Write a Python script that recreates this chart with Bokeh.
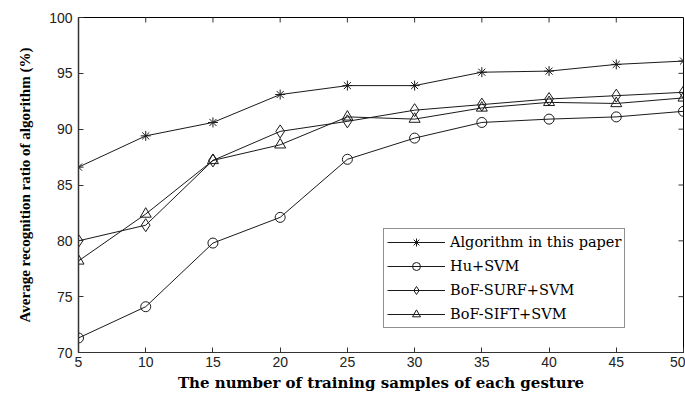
import math
from bokeh.plotting import figure
from bokeh.models import Legend, LegendItem, FixedTicker, Range1d
from bokeh.embed import file_html
from bokeh.resources import INLINE

# ---- data ----
samples = [5, 10, 15, 20, 25, 30, 35, 40, 45, 50]
alg_this_paper = [86.6, 89.4, 90.6, 93.1, 93.9, 93.9, 95.1, 95.2, 95.8, 96.1]
hu_svm = [71.3, 74.1, 79.8, 82.1, 87.3, 89.2, 90.6, 90.9, 91.1, 91.6]
bof_surf_svm = [80.0, 81.4, 87.2, 89.8, 90.7, 91.7, 92.2, 92.7, 93.0, 93.3]
bof_sift_svm = [78.2, 82.4, 87.2, 88.6, 91.1, 90.9, 91.9, 92.4, 92.3, 92.8]
series_labels = ["Algorithm in this paper", "Hu+SVM", "BoF-SURF+SVM", "BoF-SIFT+SVM"]
x_ticks = [5, 10, 15, 20, 25, 30, 35, 40, 45, 50]
y_ticks = [70, 75, 80, 85, 90, 95, 100]

p = figure(width=685, height=394, output_backend="svg", toolbar_location=None,
           x_range=Range1d(x_ticks[0], x_ticks[-1]), y_range=Range1d(y_ticks[0], y_ticks[-1]),
           min_border_left=78, min_border_right=2, min_border_top=17, min_border_bottom=41)
p.grid.visible = False
p.outline_line_color = "black"
p.outline_line_width = 1
p.background_fill_color = "white"
p.border_fill_color = "white"

line_col = "#1a1a1a"

def style_main_axis(ax, ticks):
    ax.ticker = FixedTicker(ticks=ticks)
    ax.major_tick_in = 5
    ax.major_tick_out = 0
    ax.minor_tick_in = 0
    ax.minor_tick_out = 0
    ax.axis_line_color = "#333333"
    ax.major_tick_line_color = "#333333"
    ax.major_label_text_font = "Liberation Sans"
    ax.major_label_text_font_size = "14px"
    ax.major_label_text_color = "#222222"
    ax.axis_label_text_font_style = "bold"
    ax.axis_label_text_color = "black"

xa = p.xaxis[0]
style_main_axis(xa, x_ticks)
xa.major_label_standoff = 4
xa.axis_label = "The number of training samples of each gesture"
xa.axis_label_text_font = "DejaVu Serif"
xa.axis_label_text_font_size = "15px"
xa.axis_label_standoff = 4

ya = p.yaxis[0]
style_main_axis(ya, y_ticks)
ya.major_label_standoff = 6
ya.axis_label = "Average recognition ratio of algorithm (%)"
ya.axis_label_text_font = "Liberation Serif"
ya.axis_label_text_font_size = "15px"
ya.axis_label_standoff = 13
ya.axis_line_width = 1.5

# inward box ticks on top and right edges (clipped to the frame)
p.scatter(x_ticks[1:-1], [y_ticks[-1]] * (len(x_ticks) - 2), marker="dash",
          angle=math.pi / 2, size=10, line_color="#333333", line_width=1)
p.scatter([x_ticks[-1]] * (len(y_ticks) - 2), y_ticks[1:-1], marker="dash",
          size=10, line_color="#333333", line_width=1)

items = []
specs = [
    (alg_this_paper, "asterisk", 10),
    (hu_svm, "circle", 10),
    (bof_surf_svm, "diamond", 13),
    (bof_sift_svm, "triangle", 11),
]
for (vals, marker, size), lab in zip(specs, series_labels):
    lr = p.line(samples, vals, line_color=line_col, line_width=1)
    sr = p.scatter(samples, vals, marker=marker, size=size, line_color=line_col,
                   fill_color=None, line_width=1)
    items.append(LegendItem(label=lab, renderers=[lr, sr]))

legend = Legend(items=items, location=(305, 24))
legend.label_text_font = "DejaVu Serif"
legend.label_text_font_size = "14.5px"
legend.label_text_color = "black"
legend.glyph_width = 58
legend.glyph_height = 20
legend.label_width = 170
legend.label_height = 20
legend.label_standoff = 5
legend.padding = 3
legend.spacing = 4
legend.margin = 0
legend.border_line_color = "#222222"
legend.border_line_width = 1
legend.background_fill_color = "white"
legend.background_fill_alpha = 1
p.add_layout(legend)

open("out.html", "w").write(file_html(p, INLINE))
